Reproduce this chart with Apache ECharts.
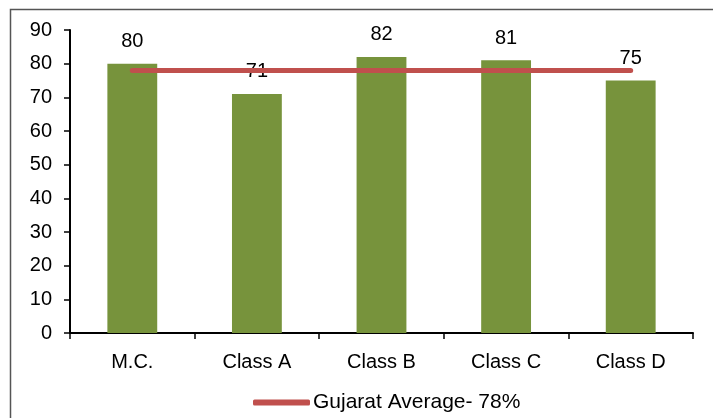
<!DOCTYPE html>
<html>
<head>
<meta charset="utf-8">
<script src="https://cdn.jsdelivr.net/npm/echarts@6/dist/echarts.min.js"></script>
<style>
  html, body { margin: 0; padding: 0; background: #fff; }
  #chart { width: 713px; height: 418px; }
</style>
</head>
<body>
<div id="chart"></div>
<script>
// Categories and values
const categories = ['M.C.', 'Class A', 'Class B', 'Class C', 'Class D'];
const scores = [80, 71, 82, 81, 75];
const averageName = 'Gujarat Average- 78%';
const averageValues = [78, 78, 78, 78, 78];
const yTicks = { min: 0, max: 90, interval: 10 };

const FONT = '"Liberation Sans", Arial, sans-serif';
const chart = echarts.init(document.getElementById('chart'), null, { renderer: 'canvas' });

chart.setOption({
  animation: false,
  backgroundColor: '#fff',
  graphic: [{
    type: 'rect',
    shape: { x: 10.5, y: 9.5, width: 710, height: 420 },
    style: { fill: 'none', stroke: '#555', lineWidth: 1.5 },
    silent: true
  }],
  grid: { left: 70, top: 30, right: 20, bottom: 85, containLabel: false },
  legend: {
    data: [averageName],
    bottom: 0,
    left: 248,
    icon: 'roundRect',
    itemWidth: 57,
    itemHeight: 6,
    textStyle: { fontFamily: FONT, fontSize: 21, color: '#000', padding: [0, 0, 0, -2] }
  },
  xAxis: {
    type: 'category',
    data: categories,
    boundaryGap: true,
    axisLine: { lineStyle: { color: '#000', width: 2 } },
    axisTick: { show: true, alignWithLabel: false, length: 6, lineStyle: { color: '#000', width: 1.5 } },
    axisLabel: { fontFamily: FONT, fontSize: 20, color: '#000', margin: 19 }
  },
  yAxis: {
    type: 'value',
    min: yTicks.min,
    max: yTicks.max,
    interval: yTicks.interval,
    splitLine: { show: false },
    axisLine: { show: true, lineStyle: { color: '#000', width: 2 } },
    axisTick: { show: true, length: 6, lineStyle: { color: '#000', width: 1.5 } },
    axisLabel: { fontFamily: FONT, fontSize: 20, color: '#000', margin: 18 }
  },
  series: [
    {
      name: 'Score',
      type: 'bar',
      data: scores,
      barWidth: '40%',
      itemStyle: { color: '#77933C' },
      label: {
        show: true,
        position: 'top',
        distance: 12,
        fontFamily: FONT,
        fontSize: 20,
        color: '#000'
      },
      z: 2
    },
    {
      name: averageName,
      type: 'line',
      data: averageValues,
      symbol: 'none',
      itemStyle: { color: '#C0504D' },
      lineStyle: { color: '#C0504D', width: 5, cap: 'round' },
      z: 3
    }
  ]
});
</script>
</body>
</html>
